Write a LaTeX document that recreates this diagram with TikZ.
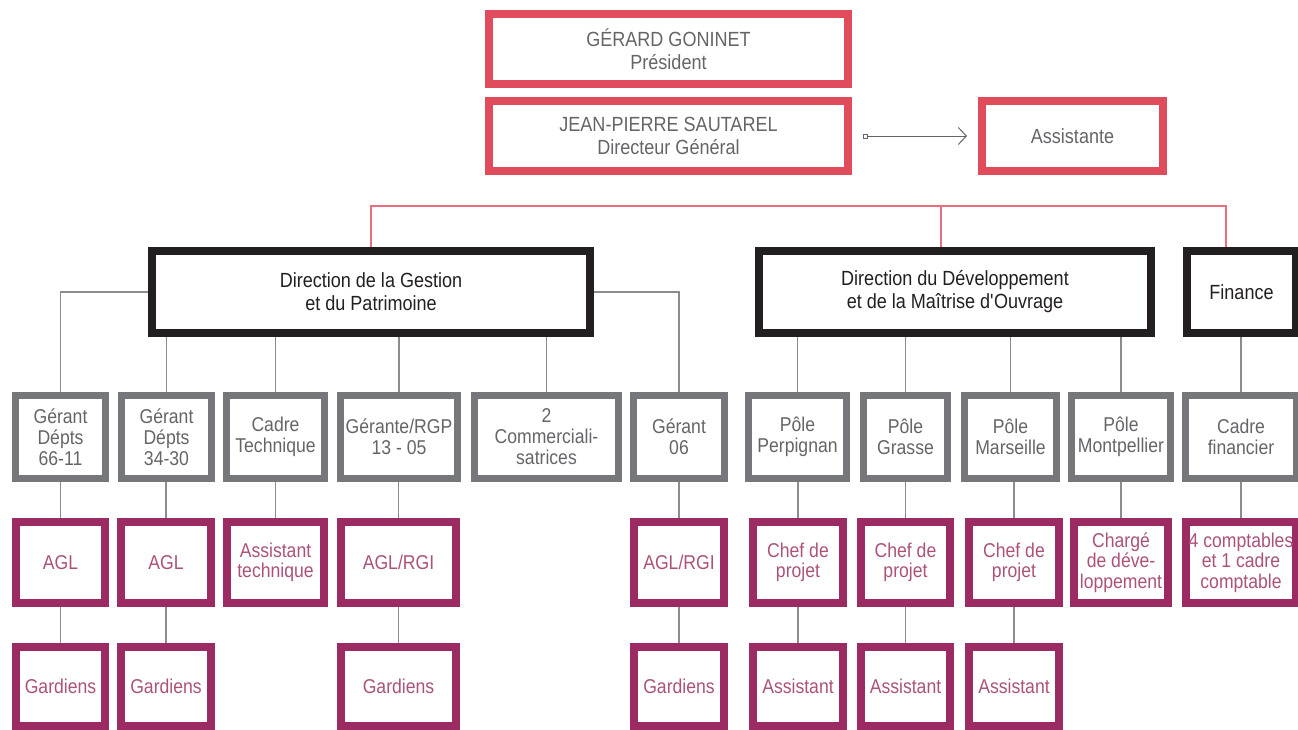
\documentclass[tikz,border=0pt]{standalone}
\usepackage{fontspec}
\setmainfont{Liberation Sans}[FakeStretch=0.88]
\usetikzlibrary{arrows.meta}

\definecolor{boxred}{RGB}{224,76,92}
\definecolor{linkred}{RGB}{232,112,126}
\definecolor{boxgray}{RGB}{118,119,123}
\definecolor{txtgray}{RGB}{100,101,104}
\definecolor{boxblack}{RGB}{35,31,32}
\definecolor{boxpurple}{RGB}{155,43,98}
\definecolor{txtpurple}{RGB}{172,82,122}
\definecolor{linkgray}{RGB}{140,140,140}

\begin{document}
\begin{tikzpicture}[x=1pt,y=-1pt]
		\tikzstyle{box}=[rectangle,align=center,inner sep=0pt,font=\fontsize{20.5}{23}\selectfont]
		\tikzstyle{head box}=[box,draw=boxred,line width=8pt,text=txtgray,minimum height=70];
		\tikzstyle{dir box}=[box,draw=boxblack,line width=8pt,text=boxblack,minimum height=82];
		\tikzstyle{unit box}=[box,draw=boxgray,line width=7pt,text=txtgray,minimum height=83,font=\fontsize{20}{21}\selectfont];
		\tikzstyle{staff box}=[box,draw=boxpurple,line width=8pt,text=txtpurple,font=\fontsize{20}{20.5}\selectfont];
		\tikzstyle{link}=[draw=linkgray,line width=1.2pt]
		\tikzstyle{red link}=[draw=linkred,line width=1.3pt]
		\tikzstyle{arrow link}=[draw=txtgray,line width=1pt,{Square[open,length=5pt,width=5pt]}-{Straight Barb[length=8pt,width=17pt]},shorten <=11pt,shorten >=11pt]
		
		\useasboundingbox (0,0) rectangle (1298,729);
		
		% Draw the head of the company
		\node[head box,minimum width=359] (PRES) at (668.5,49) {GÉRARD GONINET\\Président};
		\node[head box,minimum width=359] (DG) at (668.5,136) {JEAN-PIERRE SAUTAREL\\Directeur Général};
		\node[head box,minimum width=181] (AS) at (1072.5,136) {Assistante};
		
		% Draw the directions
		\node[dir box,minimum width=438] (DGP) at (371,292) {Direction de la Gestion\\et du Patrimoine};
		\node[dir box,minimum width=392] (DDMO) at (955,292) {Direction du Développement\\et de la Maîtrise d\textquotesingle Ouvrage};
		\node[dir box,minimum width=109] (FIN) at (1241.5,292) {Finance};
		
		% Draw the units
		\foreach \name/\x/\w/\txt in {G1/60.5/97/{Gérant\\Dépts\\66-11},G2/166.5/97/{Gérant\\Dépts\\34-30},
			CT/275.5/105/{Cadre\\Technique},GR/399/124/{Gérante/RGP\\13 - 05},COM/546.5/151/{2\\Commerciali-\\satrices},
			G6/679/98/{Gérant\\06},PP/797.5/105/{Pôle\\Perpignan},PG/905.5/91/{Pôle\\Grasse},
			PM/1010.5/99/{Pôle\\Marseille},PMO/1121/106/{Pôle\\Montpellier},CF/1241/118/{Cadre\\financier}}
		\node[unit box,minimum width=\w-7] (\name) at (\x,437) {\txt};
		
		% Draw the staff under the units
		\foreach \name/\x/\w/\txt in {A1/60.5/97/AGL,A2/166/98/AGL,AT/275.5/105/{Assistant\\technique},
			AR/398.5/123/{AGL/RGI},AR6/679/98/{AGL/RGI},C1/798/98/{Chef de\\projet},C2/905.5/97/{Chef de\\projet},
			C3/1014/98/{Chef de\\projet},CD/1121/102/{Chargé\\de déve-\\loppement},CC/1241/118/{4 comptables\\et 1 cadre\\comptable}}
		\node[staff box,minimum width=\w-8,minimum height=81] (\name) at (\x,562.5) {\txt};
		
		\foreach \name/\x/\w/\txt in {GA1/60.5/97/Gardiens,GA2/166/98/Gardiens,GAR/398.5/123/Gardiens,GA6/679/98/Gardiens,
			AS1/798/98/Assistant,AS2/905.5/97/Assistant,AS3/1014/98/Assistant}
		\node[staff box,minimum width=\w-8,minimum height=79] (\name) at (\x,686.5) {\txt};
		
		% Connect the director with the assistant
		\draw[arrow link] (DG) -- (AS);
		
		% Connect the directions
		\coordinate (bus) at (0,206);
		\coordinate (DDMO-top) at ([xshift=-14pt]DDMO.north);
		\coordinate (FIN-top) at ([xshift=-15.5pt]FIN.north);
		\draw[red link] (DGP.north) |- (bus -| FIN-top) -- (FIN-top);
		\draw[red link] (DDMO-top) -- (DDMO-top |- bus);
		
		% Connect every direction with its units
		\draw[link] (DGP.west) -| (G1.north);
		\draw[link] (DGP.east) -| (G6.north);
		\foreach \dest in {G2,CT,GR,COM}
		\draw[link] (DGP.south -| \dest.north) -- (\dest.north);
		\foreach \dest in {PP,PG,PM,PMO}
		\draw[link] (DDMO.south -| \dest.north) -- (\dest.north);
		\draw[link] (FIN.south -| CF.north) -- (CF.north);
		
		% Connect the units with the staff
		\foreach \source/\dest in {G1/A1,G2/A2,CT/AT,GR/AR,G6/AR6,PP/C1,PG/C2,PM/C3,PMO/CD,CF/CC}
		\draw[link] (\source.south -| \dest.north) -- (\dest.north);
		\foreach \source/\dest in {A1/GA1,A2/GA2,AR/GAR,AR6/GA6,C1/AS1,C2/AS2,C3/AS3}
		\draw[link] (\source.south -| \dest.north) -- (\dest.north);
\end{tikzpicture}
\end{document}
